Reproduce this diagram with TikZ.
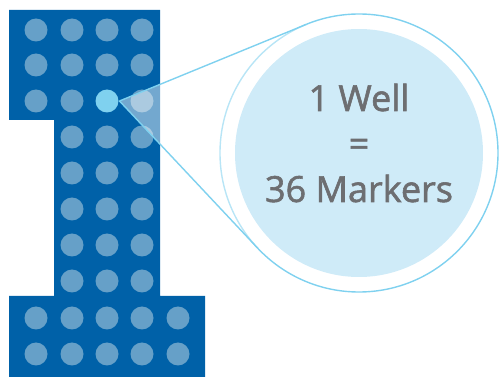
\documentclass[tikz,border=0pt]{standalone}
\usepackage{fontspec}
\newfontfamily\wellfont[FakeBold=1.6]{Open Sans}
\usetikzlibrary{calc}
\definecolor{plateblue}{HTML}{0061A8}
\definecolor{dotblue}{HTML}{66A0C8}
\definecolor{wellcyan}{HTML}{7FD1EF}
\definecolor{lensfill}{HTML}{CFEBF8}
\definecolor{textgray}{HTML}{6D6E71}
\tikzset{
  dot/.style={fill=dotblue},
  zoomline/.style={draw=wellcyan, line width=1.4pt},
}
\begin{document}
\begin{tikzpicture}[x=1pt,y=-1pt]
\useasboundingbox (0,0) rectangle (499,377);

% the "1" plate
\fill[plateblue] (9,10) -- (160,10) -- (160,296) -- (205,296) -- (205,377)
  -- (9,377) -- (9,296) -- (54,296) -- (54,120) -- (9,120) -- cycle;

% top rows
\fill[dot] (36,30) circle (11.5);
\fill[dot] (72,30) circle (11.5);
\fill[dot] (107,30) circle (11.5);
\fill[dot] (142,30) circle (11.5);
\fill[dot] (36,65) circle (11.5);
\fill[dot] (72,65) circle (11.5);
\fill[dot] (107,65) circle (11.5);
\fill[dot] (142,65) circle (11.5);
\fill[dot] (36,101) circle (11.5);
\fill[dot] (72,101) circle (11.5);
\fill[wellcyan] (107,101) circle (11.5);
\fill[dot] (142,101) circle (11.5);

% stem
\fill[dot] (72,137) circle (11.5);
\fill[dot] (107,137) circle (11.5);
\fill[dot] (142,137) circle (11.5);
\fill[dot] (72,173) circle (11.5);
\fill[dot] (107,173) circle (11.5);
\fill[dot] (142,173) circle (11.5);
\fill[dot] (72,209) circle (11.5);
\fill[dot] (107,209) circle (11.5);
\fill[dot] (142,209) circle (11.5);
\fill[dot] (72,245) circle (11.5);
\fill[dot] (107,245) circle (11.5);
\fill[dot] (142,245) circle (11.5);
\fill[dot] (72,281) circle (11.5);
\fill[dot] (107,281) circle (11.5);
\fill[dot] (142,281) circle (11.5);

% foot
\fill[dot] (36,318) circle (11.5);
\fill[dot] (72,318) circle (11.5);
\fill[dot] (107,318) circle (11.5);
\fill[dot] (142,318) circle (11.5);
\fill[dot] (178,318) circle (11.5);
\fill[dot] (36,354) circle (11.5);
\fill[dot] (72,354) circle (11.5);
\fill[dot] (107,354) circle (11.5);
\fill[dot] (142,354) circle (11.5);
\fill[dot] (178,354) circle (11.5);

% magnifier
\coordinate (well) at (119.5,101);
\node[circle, draw=wellcyan, line width=1.4pt, inner sep=0pt, outer sep=0pt,
  minimum size=278pt] (lens) at (359,153) {};
\coordinate (up) at (tangent cs:node=lens,point={(well)},solution=1);
\coordinate (down) at (tangent cs:node=lens,point={(well)},solution=2);
\fill[white, opacity=0.45] (well) -- (up) -- (down) -- cycle;
\fill[lensfill] (lens.center) circle (124);
\draw[zoomline] (well) -- (up);
\draw[zoomline] (well) -- (down);

\node[align=center, text=textgray, font=\wellfont\fontsize{36}{45.5}\selectfont]
  (label) at (359,143) {1 Well\\=\\36 Markers};
\end{tikzpicture}
\end{document}
